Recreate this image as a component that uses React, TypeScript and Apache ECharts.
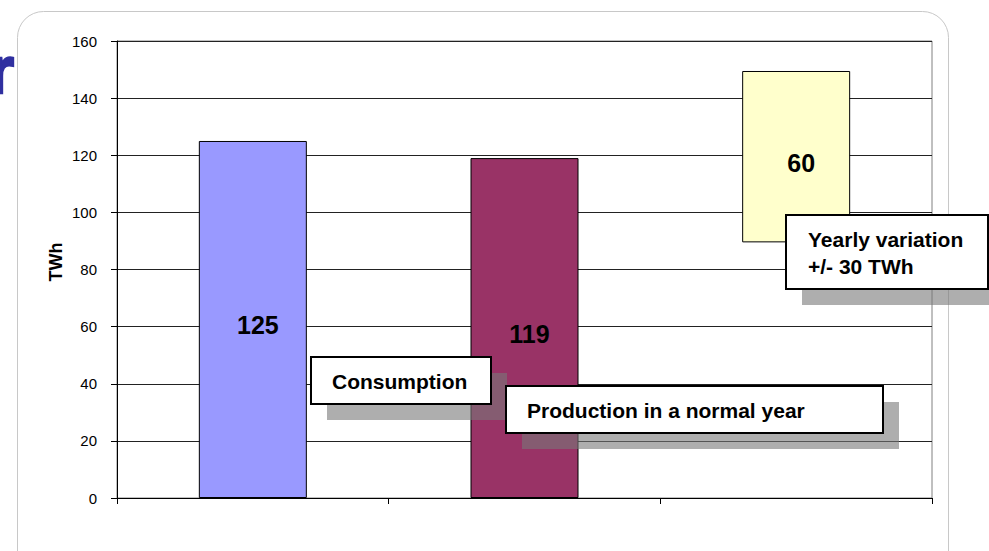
import React, { useEffect, useRef } from "react";
import * as echarts from "echarts";

const categories = ["Consumption", "Production in a normal year", "Yearly variation"];
const baseValues = [0, 0, 89.5];
const barValues = [125, 119, 60];
const barColors = ["#9999FF", "#993366", "#FFFFCC"];
const yTicks = { min: 0, max: 160, interval: 20 };
const yAxisTitle = "TWh";
const noteConsumption = "Consumption";
const noteProduction = "Production in a normal year";
const noteVariation = "Yearly variation\n+/- 30 TWh";
const titleFragment = "r";

const FONT = "'Liberation Sans', Arial, Helvetica, sans-serif";
const SHADOW = "rgba(120,120,120,0.6)";

function box(x: number, y: number, w: number, h: number, text: string, tx: number, ty: number, lh?: number) {
  return [
    { type: "rect", z: 100, shape: { x: x + 16, y: y + 16, width: w, height: h }, style: { fill: SHADOW, stroke: null } },
    { type: "rect", z: 101, shape: { x, y, width: w, height: h }, style: { fill: "#ffffff", stroke: "#000000", lineWidth: 2 } },
    {
      type: "text", z: 102, x: tx, y: ty,
      style: {
        text, fill: "#000", font: "bold 21px " + FONT,
        textAlign: "left", textVerticalAlign: "middle", align: "left", verticalAlign: "middle",
        lineHeight: lh || 24,
      },
    },
  ];
}

export default function App() {
  const ref = useRef<HTMLDivElement>(null);
  useEffect(() => {
    if (!ref.current) return;
    const chart = echarts.init(ref.current, undefined, { renderer: "svg" });
    chart.setOption({
      animation: false,
      backgroundColor: "#ffffff",
      grid: { left: 117, right: 57, top: 41, bottom: 53, show: true, borderColor: "#808080", borderWidth: 1, backgroundColor: "transparent" },
      xAxis: {
        type: "category",
        data: categories,
        axisLine: { lineStyle: { color: "#000", width: 1 } },
        axisTick: { show: true, alignWithLabel: false, length: 6, lineStyle: { color: "#000" } },
        axisLabel: { show: false },
        splitLine: { show: false },
      },
      yAxis: {
        type: "value",
        min: yTicks.min,
        max: yTicks.max,
        interval: yTicks.interval,
        axisLine: { show: true, lineStyle: { color: "#000" } },
        axisTick: { show: true, length: 6, lineStyle: { color: "#000" } },
        axisLabel: { fontFamily: FONT, fontSize: 15, color: "#000", margin: 20 },
        splitLine: { show: true, lineStyle: { color: "#222", width: 1 } },
      },
      series: [
        {
          type: "bar",
          stack: "s",
          data: baseValues,
          barWidth: 108,
          itemStyle: { color: "transparent", borderWidth: 0 },
          silent: true,
        },
        {
          type: "bar",
          stack: "s",
          barWidth: 108,
          data: barValues.map((v, i) => ({ value: v, itemStyle: { color: barColors[i] } })),
          itemStyle: { borderColor: "#000", borderWidth: 1 },
          label: {
            show: true,
            position: "inside",
            offset: [5, 6],
            fontFamily: FONT,
            fontSize: 25,
            fontWeight: "bold",
            color: "#000",
          },
        },
      ],
      graphic: [
        {
          type: "rect", z: -10, silent: true,
          shape: { x: 17.5, y: 11.5, width: 931, height: 570, r: 26 },
          style: { fill: "none", stroke: "#c8c8c8", lineWidth: 1 },
        },
        {
          type: "text", z: 100, x: 56, y: 262, rotation: Math.PI / 2,
          style: {
            text: yAxisTitle, fill: "#000", font: "bold 18px " + FONT,
            textAlign: "center", textVerticalAlign: "middle", align: "center", verticalAlign: "middle",
          },
        },
        {
          type: "text", z: 100, x: 14, y: 70,
          style: {
            text: titleFragment, fill: "#3030a0", stroke: "#3030a0", lineWidth: 2.5,
            font: "bold 66px " + FONT,
            textAlign: "right", textVerticalAlign: "middle", align: "right", verticalAlign: "middle",
          },
        },
        ...box(311, 357, 180, 47, noteConsumption, 332, 381),
        ...box(506, 386, 377, 47, noteProduction, 527, 410),
        ...box(786, 215, 202, 74, noteVariation, 808, 253, 27),
      ],
    });
    return () => chart.dispose();
  }, []);
  return <div ref={ref} style={{ position: "fixed", left: 0, top: 0, width: 989, height: 551 }} />;
}
